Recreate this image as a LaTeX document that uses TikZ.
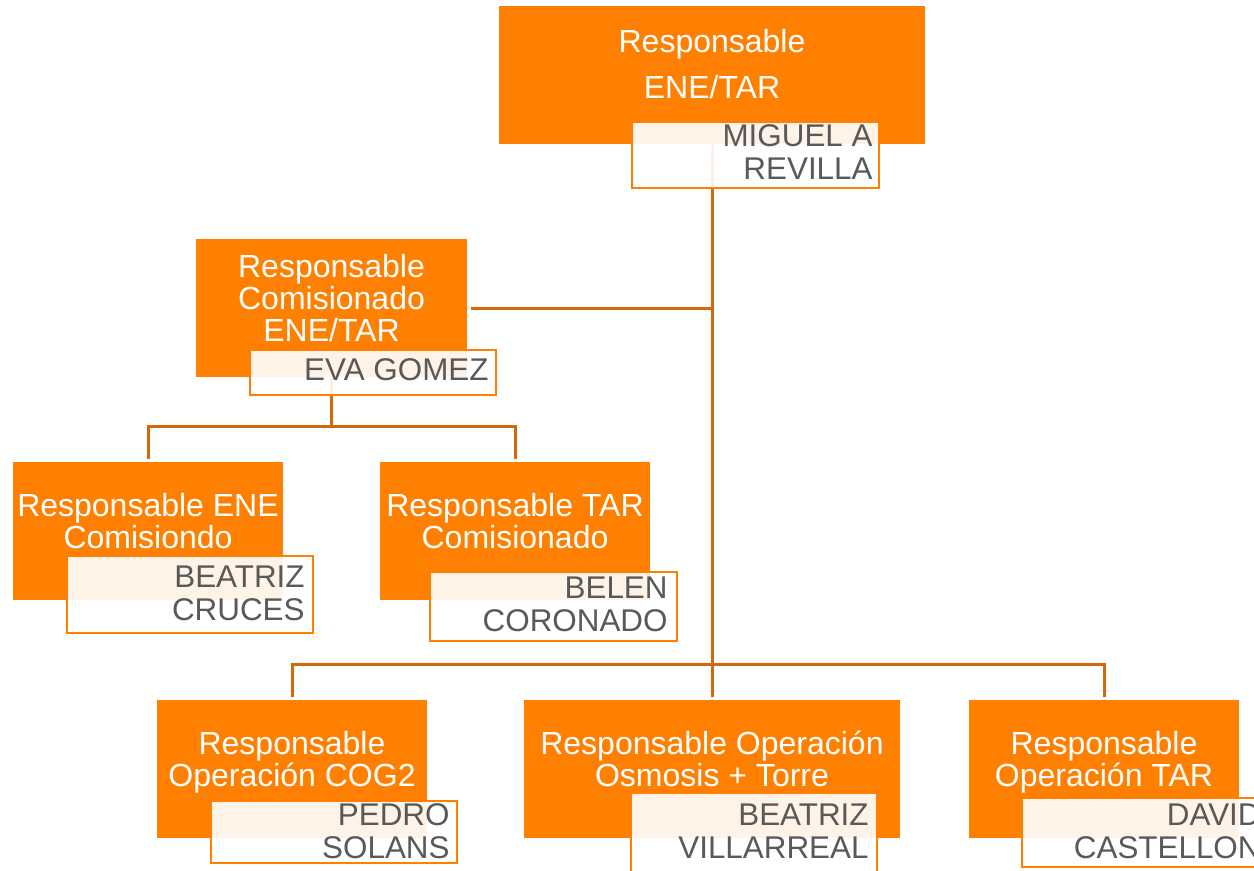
\documentclass[tikz,border=0pt]{standalone}
\usepackage{fontspec}
\setmainfont{Liberation Sans}
\definecolor{orng}{HTML}{FF8000}
\definecolor{lineor}{HTML}{D2690F}
\definecolor{txtgrey}{HTML}{595959}
\begin{document}
\begin{tikzpicture}[x=0.5pt,y=-0.5pt,
  obox/.style={fill=orng, draw=none, anchor=north west, inner sep=0pt, minimum height=69pt},
  nbox/.style={fill=white, fill opacity=0.9, draw=orng, line width=1pt, anchor=north west, inner sep=0pt},
  ttl/.style={text=white, align=center, font=\fontsize{16}{16}\selectfont, inner sep=0pt},
  nm/.style={text=txtgrey, align=right, anchor=east, font=\fontsize{15.7}{16.5}\selectfont, inner sep=0pt},
  conn/.style={draw=lineor, line width=1.5pt}]
\useasboundingbox (0,0) rectangle (1254,871);
% orange boxes
\node[obox, minimum width=213pt] (root) at (499,6) {};
\node[obox, minimum width=135.5pt] (b2) at (196,239) {};
\node[obox, minimum width=135pt] (b3) at (13,462) {};
\node[obox, minimum width=135pt] (b4) at (380,462) {};
\node[obox, minimum width=135pt] (b5) at (157,700) {};
\node[obox, minimum width=188pt] (b6) at (524,700) {};
\node[obox, minimum width=135pt] (b7) at (969,700) {};
% connectors
\coordinate (busA) at (331,427);
\coordinate (busB) at (712,665);
\draw[conn] (root.south) -- ([yshift=1.5pt]b6.north);
\draw[conn] ([xshift=1.5pt]b2.east) -- (b2.east -| root.south);
\draw[conn] (b2.south) -- (b2.south |- busA);
\draw[conn, shorten <=1.5pt, shorten >=1.5pt] (b3.north) -- (b3.north |- busA) -- (b4.north |- busA) -- (b4.north);
\draw[conn, shorten <=1.5pt, shorten >=1.5pt] (b5.north) -- (b5.north |- busB) -- (b7.north |- busB) -- (b7.north);
% titles
\node[ttl, font=\fontsize{16}{23}\selectfont] (root-t) at (712,64) {Responsable\\ENE/TAR};
\node[ttl] (b2-t) at (331.5,298) {Responsable\\Comisionado\\ENE/TAR};
\node[ttl] (b3-t) at (148,521.5) {Responsable ENE\\Comisiondo};
\node[ttl] (b4-t) at (515,521.5) {Responsable TAR\\Comisionado};
\node[ttl] (b5-t) at (292,762) {Responsable\\Operación COG2};
\node[ttl] (b6-t) at (712,759) {Responsable Operación\\Osmosis + Torre};
\node[ttl] (b7-t) at (1104,762) {Responsable\\Operación TAR};
% name boxes
\node[nbox, minimum width=123.5pt, minimum height=33pt] (root-n) at (631,121) {};
\node[nbox, minimum width=123pt, minimum height=22.5pt] (b2-n) at (249,349) {};
\node[nbox, minimum width=123pt, minimum height=38.5pt] (b3-n) at (66,555) {};
\node[nbox, minimum width=123.5pt, minimum height=34.5pt] (b4-n) at (429,571) {};
\node[nbox, minimum width=123pt, minimum height=31pt] (b5-n) at (210,800) {};
\node[nbox, minimum width=123pt, minimum height=50pt] (b6-n) at (630,792) {};
\node[nbox, minimum width=123pt, minimum height=34.5pt] (b7-n) at (1021,797) {};
% names
\node[nm] (root-m) at (873,152) {MIGUEL A\\REVILLA};
\node[nm] (b2-m) at (489,370) {EVA GOMEZ};
\node[nm] (b3-m) at (305,593) {BEATRIZ\\CRUCES};
\node[nm] (b4-m) at (668,604.5) {BELEN\\CORONADO};
\node[nm] (b5-m) at (450,831) {PEDRO\\SOLANS};
\node[nm] (b6-m) at (869,831.5) {BEATRIZ\\VILLARREAL};
\node[nm] (b7-m) at (1261,831) {DAVID\\CASTELLON};
\end{tikzpicture}
\end{document}
